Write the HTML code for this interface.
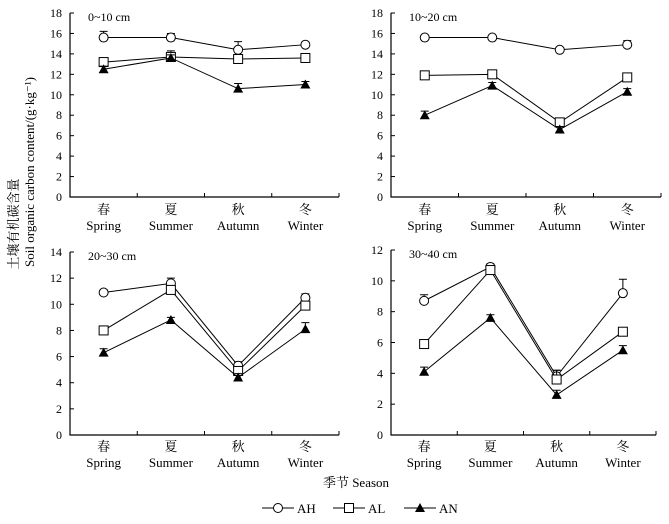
<!DOCTYPE html>
<html><head><meta charset="utf-8">
<style>
body{margin:0;background:#fff;}
svg text{font-family:"Liberation Serif","Noto Serif CJK SC",serif;fill:#000;}
</style></head>
<body>
<svg id="c" width="669" height="519" xmlns="http://www.w3.org/2000/svg"></svg>
<script>
const seasonsCN = ["春","夏","秋","冬"];
const seasonsEN = ["Spring","Summer","Autumn","Winter"];
const panelTitles = ["0~10 cm","10~20 cm","20~30 cm","30~40 cm"];
const panelMax = [18,18,14,12];
const ah1 = [15.6,15.6,14.4,14.9], al1 = [13.2,13.7,13.5,13.6], an1 = [12.5,13.6,10.6,11.0];
const ah2 = [15.6,15.6,14.4,14.9], al2 = [11.9,12.0,7.3,11.7], an2 = [8.0,10.9,6.6,10.3];
const ah3 = [10.9,11.6,5.3,10.5], al3 = [8.0,11.1,4.9,9.9], an3 = [6.3,8.8,4.4,8.1];
const ah4 = [8.7,10.9,3.8,9.2], al4 = [5.9,10.7,3.6,6.7], an4 = [4.1,7.6,2.6,5.5];
const ahE1 = [0.6,0.4,0.8,0.2], alE1 = [0.3,0.6,0.2,0.2], anE1 = [0.3,0.3,0.5,0.3];
const ahE2 = [0.2,0.2,0.2,0.4], alE2 = [0.3,0.3,0.3,0.3], anE2 = [0.4,0.3,0.3,0.3];
const ahE3 = [0.2,0.4,0.3,0.3], alE3 = [0.2,0.3,0.3,0.3], anE3 = [0.3,0.2,0.3,0.5];
const ahE4 = [0.4,0.2,0.4,0.9], alE4 = [0.2,0.2,0.6,0.2], anE4 = [0.3,0.2,0.3,0.3];

const NS="http://www.w3.org/2000/svg";
const svg=document.getElementById('c');
function mk(t,a,p){const e=document.createElementNS(NS,t);for(const k in a)e.setAttribute(k,a[k]);(p||svg).appendChild(e);return e;}
function txt(s,a,p){const e=mk('text',a,p);e.textContent=s;return e;}

const panels=[
 {x0:70,x1:339,yTop:13,y0:197,data:[ah1,al1,an1],err:[ahE1,alE1,anE1],cn:210,en:226},
 {x0:391,x1:661,yTop:13,y0:197,data:[ah2,al2,an2],err:[ahE2,alE2,anE2],cn:210,en:226},
 {x0:70,x1:339,yTop:252,y0:435,data:[ah3,al3,an3],err:[ahE3,alE3,anE3],cn:447,en:463},
 {x0:391,x1:656,yTop:250,y0:435,data:[ah4,al4,an4],err:[ahE4,alE4,anE4],cn:447,en:463}
];
const names=['ah','al','an'];
panels.forEach((P,pi)=>{
 const g=mk('g',{});
 
 
 const max=panelMax[pi];
 const y=v=>P.y0-(v/max)*(P.y0-P.yTop);
 const step=(P.x1-P.x0)/4;
 const x=i=>P.x0+step*(i+0.5);
 const ax=mk('path',{d:`M${P.x0},${P.yTop}V${P.y0}H${P.x1}`,fill:'none',stroke:'#000','stroke-width':1.2},g);
 
 for(let v=0;v<=max;v+=2){
  mk('line',{x1:P.x0,x2:P.x0+4,y1:y(v),y2:y(v),stroke:'#000'},g);
  const t=txt(String(v),{x:P.x0-8,y:y(v)+4,'text-anchor':'end','font-size':12},g);
  
 }
 for(let i=1;i<=4;i++) mk('line',{x1:P.x0+step*i,x2:P.x0+step*i,y1:P.y0,y2:P.y0-4,stroke:'#000'},g);
 seasonsCN.forEach((s,i)=>{
  const a=txt(s,{x:x(i),y:P.cn+4,'text-anchor':'middle','font-size':13},g);
  
  const b=txt(seasonsEN[i],{x:x(i),y:P.en+4,'text-anchor':'middle','font-size':13},g);
  
 });
 const tt=txt(panelTitles[pi],{x:P.x0+18,y:P.yTop+8,'font-size':12},g);
 
 P.data.forEach((arr,si)=>{
  const sg=mk('g',{},g);
  
  
  mk('polyline',{points:arr.map((v,i)=>x(i)+','+y(v)).join(' '),fill:'none',stroke:'#000','stroke-width':1},sg);
  arr.forEach((v,i)=>{
   const e=P.err[si][i];
   mk('path',{d:`M${x(i)},${y(v)}V${y(v+e)}M${x(i)-4},${y(v+e)}H${x(i)+4}`,stroke:'#000',fill:'none'},sg);
  });
  arr.forEach((v,i)=>{
   let m;
   if(si===0) m=mk('circle',{cx:x(i),cy:y(v),r:4.5,fill:'#fff',stroke:'#000'},sg);
   else if(si===1) m=mk('rect',{x:x(i)-4.5,y:y(v)-4.5,width:9,height:9,fill:'#fff',stroke:'#000'},sg);
   else m=mk('path',{d:`M${x(i)},${y(v)-5}L${x(i)+5},${y(v)+4}L${x(i)-5},${y(v)+4}Z`,fill:'#000'},sg);
   
   
  });
 });
});
const yt1=txt('土壤有机碳含量',{x:0,y:0,'font-size':13,'text-anchor':'middle',transform:'translate(18,224) rotate(-90)'});

const yt2=txt('Soil organic carbon content/(g·kg⁻¹)',{x:0,y:0,'font-size':13,'text-anchor':'middle',transform:'translate(34,172) rotate(-90)'});

const xt=txt('季节 Season',{x:356,y:487,'font-size':13,'text-anchor':'middle'});

const lg=mk('g',{});

const legs=[['AH',262],['AL',333],['AN',404]];
legs.forEach((l,i)=>{
 const eg=mk('g',{},lg);
 
 
 const cx=l[1]+16,cy=508;
 mk('line',{x1:l[1],x2:l[1]+32,y1:cy,y2:cy,stroke:'#000'},eg);
 if(i===0) mk('circle',{cx,cy,r:4.5,fill:'#fff',stroke:'#000'},eg);
 else if(i===1) mk('rect',{x:cx-4.5,y:cy-4.5,width:9,height:9,fill:'#fff',stroke:'#000'},eg);
 else mk('path',{d:`M${cx},${cy-5}L${cx+5},${cy+4}L${cx-5},${cy+4}Z`,fill:'#000'},eg);
 txt(l[0],{x:l[1]+35,y:cy+5,'font-size':13},eg);
});
</script>
</body></html>
